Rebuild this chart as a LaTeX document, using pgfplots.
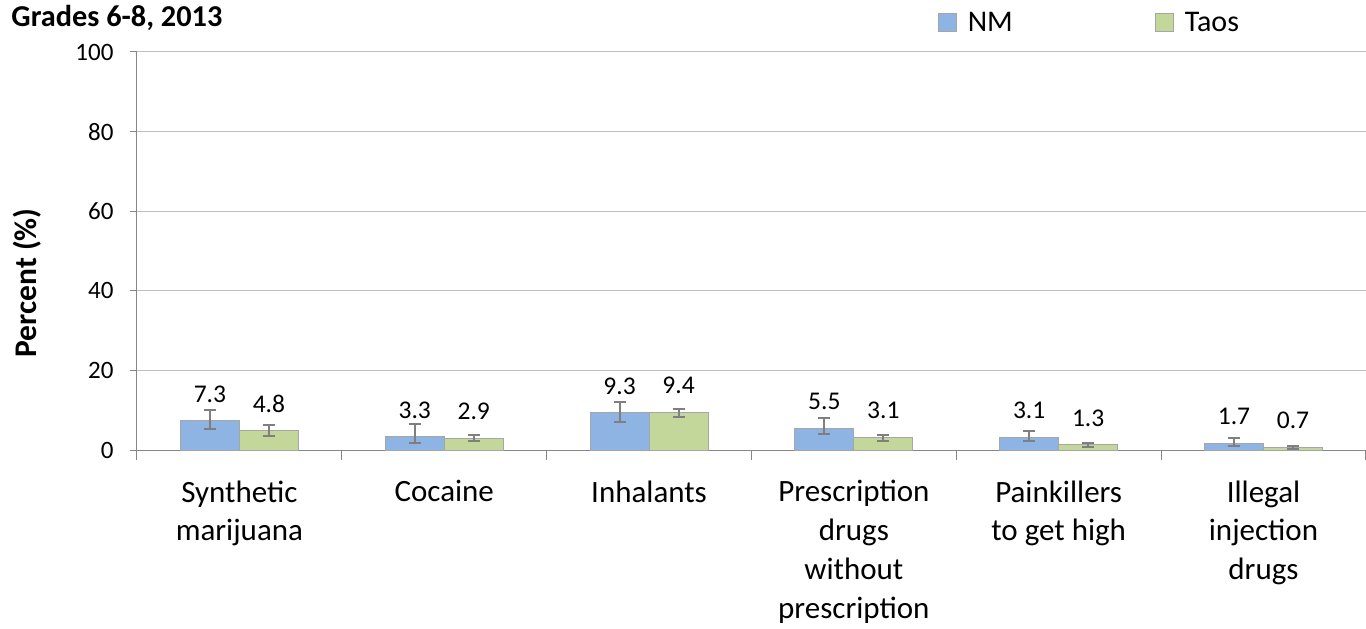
\documentclass[border=0pt]{standalone}
\usepackage{pgfplots}
\pgfplotsset{compat=1.18}
\usepackage{pgfplotstable}
\usepackage{fontspec}
\setmainfont{Carlito}
\definecolor{nmblue}{HTML}{8DB4E2}
\definecolor{taosgreen}{HTML}{C4D79B}
\definecolor{bordergray}{HTML}{A6A6A6}
\definecolor{errgray}{HTML}{7F7F7F}
\definecolor{axisgray}{HTML}{868686}
\definecolor{gridgray}{HTML}{BFBFBF}

\pgfplotstableread{
x y ep em
0 7.3 2.8 1.95
1 3.3 3.3 1.65
2 9.3 2.8 2.3
3 5.5 2.45 1.6
4 3.1 1.75 0.94
5 1.7 1.2 0.62
}\nmdata
\pgfplotstableread{
x y ep em
0 4.8 1.4 1.3
1 2.9 0.77 0.64
2 9.4 0.9 1.0
3 3.1 0.67 0.84
4 1.3 0.46 0.65
5 0.7 0.38 0.37
}\taosdata

\begin{document}
\begin{tikzpicture}
\path[use as bounding box] (-137pt,-179pt) rectangle (1229pt,450pt);
\begin{axis}[
  at={(0pt,0pt)}, anchor=south west,
  scale only axis, width=1229pt, height=398pt,
  ymin=0, ymax=100, ytick={0,20,...,100},
  xmin=-0.5, xmax=5.5,
  xtick={0,...,5},
  xticklabels={{Synthetic\\marijuana},{Cocaine},{Inhalants},{Prescription\\drugs\\without\\prescription},{Painkillers\\to get high},{Illegal\\injection\\drugs}},
  major x tick style={draw=none},
  extra x ticks={-0.5,0.5,1.5,2.5,3.5,4.5,5.5},
  extra x tick labels={},
  extra x tick style={grid=none, major tick length=10pt, major x tick style={draw=axisgray, line width=1pt}},
  tick align=outside,
  major tick length=7pt,
  ytick style={draw=axisgray, line width=1pt},
  axis lines*=left,
  axis line style={draw=axisgray, line width=1pt, -},
  ymajorgrids,
  grid style={draw=gridgray, line width=1pt},
  /pgf/number format/assume math mode=true,
  ticklabel style={font=\fontsize{25}{30}\selectfont},
  xticklabel style={align=center, font=\fontsize{31}{38.8}\selectfont, yshift=-20pt},
  yticklabel style={xshift=-13pt},
  ylabel={\bfseries Percent (\%)},
  every axis y label/.style={at={(axis description cs:-0.0895,0.42)}, rotate=90, anchor=center, font=\fontsize{31.5}{38}\selectfont},
  title={\bfseries Grades 6-8, 2013},
  title style={at={(axis description cs:-0.105,1.07)}, anchor=west, font=\fontsize{30.3}{36}\selectfont},
  ybar=0pt, bar width=59pt,
  nodes near coords={\pgfmathprintnumber[fixed, fixed zerofill, precision=1, assume math mode=true]{\pgfplotspointmeta}},
  every node near coord/.append style={font=\fontsize{25.5}{30}\selectfont, anchor=south, inner sep=0pt, yshift=18pt, text=black},
  legend columns=2,
  legend style={at={(axis description cs:0.775,1.075)}, anchor=center, draw=none, fill=none,
    font=\fontsize{30}{36}\selectfont,
    /tikz/every odd column/.append style={column sep=9pt},
    /tikz/every even column/.append style={column sep=140pt}},
  legend image code/.code={\draw[#1, draw=bordergray, line width=1pt] (0pt,-9pt) rectangle (18pt,9pt);},
]
\addplot[fill=nmblue, draw=bordergray, line width=1pt,
  error bars/.cd, y dir=both, y explicit,
  error bar style={draw=errgray, line width=2pt},
  error mark options={rotate=90, draw=errgray, mark size=6pt, line width=2pt}]
  table[x=x, y=y, y error plus=ep, y error minus=em] {\nmdata};
\addplot[fill=taosgreen, draw=bordergray, line width=1pt,
  error bars/.cd, y dir=both, y explicit,
  error bar style={draw=errgray, line width=2pt},
  error mark options={rotate=90, draw=errgray, mark size=6pt, line width=2pt}]
  table[x=x, y=y, y error plus=ep, y error minus=em] {\taosdata};
\legend{NM, Taos}
\end{axis}
\end{tikzpicture}
\end{document}
